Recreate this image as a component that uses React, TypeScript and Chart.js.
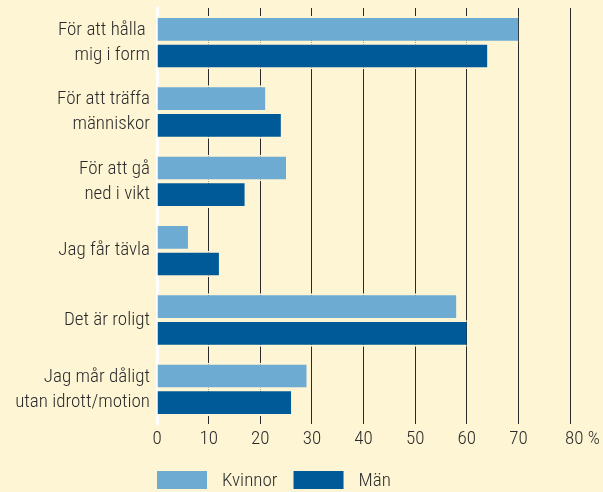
import React, { useEffect, useRef } from "react";
import { Chart, registerables } from "chart.js";

Chart.register(...registerables);

const categories: string[][] = [
  ["För att hålla ", "mig i form"],
  ["För att träffa", "människor"],
  ["För att gå", "ned i vikt"],
  ["Jag får tävla"],
  ["Det är roligt"],
  ["Jag mår dåligt", "utan idrott/motion"],
];
const kvinnor: number[] = [70, 21, 25, 6, 58, 29];
const man: number[] = [64, 24, 17, 12, 60, 26];
const seriesNames: string[] = ["Kvinnor", "Män"];
const tickLabels: string[] = ["0", "10", "20", "30", "40", "50", "60", "70", "80 %"];

const BG = "#FEF5D5";
const LIGHT = "#6EABD3";
const DARK = "#005A98";
const TEXT = "#2a2a2a";
const FAMILY = "Roboto, 'Liberation Sans', sans-serif";
const WEIGHT = "350 condensed";
const SIZE = 19;

const bgPlugin = {
  id: "bg",
  beforeDraw(chart: any) {
    const ctx = chart.ctx;
    ctx.save();
    ctx.fillStyle = BG;
    ctx.fillRect(0, 0, chart.width, chart.height);
    ctx.restore();
    // last x tick label ("80 %") starts just left of its gridline
    const xs = chart.scales.x;
    const items = xs.getLabelItems(chart.chartArea);
    const last = items[items.length - 1];
    if (last) {
      last.options.textAlign = "left";
      last.options.translation[0] = xs.getPixelForValue(80) - 5;
    }
  },
};

const legendPlugin = {
  id: "customLegend",
  afterDraw(chart: any) {
    const ctx = chart.ctx;
    const area = chart.chartArea;
    ctx.save();
    ctx.font = `${WEIGHT} ${SIZE}px ${FAMILY}`;
    ctx.textBaseline = "middle";
    ctx.textAlign = "left";
    let x = area.left;
    const y = 471;
    chart.data.datasets.forEach((ds: any) => {
      ctx.fillStyle = ds.backgroundColor;
      ctx.fillRect(x, y, 50, 18);
      ctx.fillStyle = TEXT;
      const tx = x + 65;
      ctx.fillText(ds.label, tx, y + 10);
      x = tx + ctx.measureText(ds.label).width + 16;
    });
    ctx.restore();
  },
};

export default function App() {
  const ref = useRef<HTMLCanvasElement | null>(null);
  useEffect(() => {
    if (!ref.current) return;
    const chart = new Chart(ref.current, {
      type: "bar",
      data: {
        labels: categories,
        datasets: [
          {
            label: seriesNames[0],
            data: kvinnor,
            backgroundColor: LIGHT,
            borderColor: BG,
            borderWidth: { top: 2, bottom: 2, left: 0, right: 0 },
            borderSkipped: false,
          },
          {
            label: seriesNames[1],
            data: man,
            backgroundColor: DARK,
            borderColor: BG,
            borderWidth: { top: 2, bottom: 2, left: 0, right: 0 },
            borderSkipped: false,
          },
        ],
      },
      options: {
        indexAxis: "y",
        animation: false,
        responsive: false,
        layout: { padding: { top: 8, right: 33, left: 0, bottom: 0 } },
        categoryPercentage: 0.77,
        barPercentage: 1,
        plugins: {
          legend: { display: false },
          tooltip: { enabled: false },
        },
        scales: {
          x: {
            min: 0,
            max: 80,
            afterFit(scale: any) {
              scale.height = 68;
              scale.paddingRight = 0;
            },
            afterBuildTicks(scale: any) {
              scale.ticks = tickLabels.map((_, i) => ({ value: i * 10 }));
            },
            grid: {
              color: (c: any) => (c.index === 0 ? "rgba(0,0,0,0)" : "#2b2b2b"),
              lineWidth: 1,
              drawTicks: false,
            },
            border: { display: false },
            ticks: {
              color: TEXT,
              font: { family: FAMILY, weight: WEIGHT, size: SIZE },
              padding: 4,
              maxRotation: 0,
              callback: (_v: any, i: number) => tickLabels[i],
            },
          },
          y: {
            afterFit(scale: any) {
              scale.width = 157;
              scale.paddingTop = 0;
              scale.paddingBottom = 0;
            },
            grid: { display: false, drawTicks: false },
            border: { display: true, color: "#ffffff", width: 3 },
            ticks: {
              color: TEXT,
              font: { family: FAMILY, weight: WEIGHT, size: SIZE, lineHeight: 1.32 },
              padding: 7,
            },
          },
        },
      } as any,
      plugins: [bgPlugin, legendPlugin],
    });
    return () => chart.destroy();
  }, []);
  return (
    <div style={{ position: "absolute", left: 0, top: 0, width: 603, height: 492 }}>
      <canvas ref={ref} width={603} height={492} />
    </div>
  );
}
